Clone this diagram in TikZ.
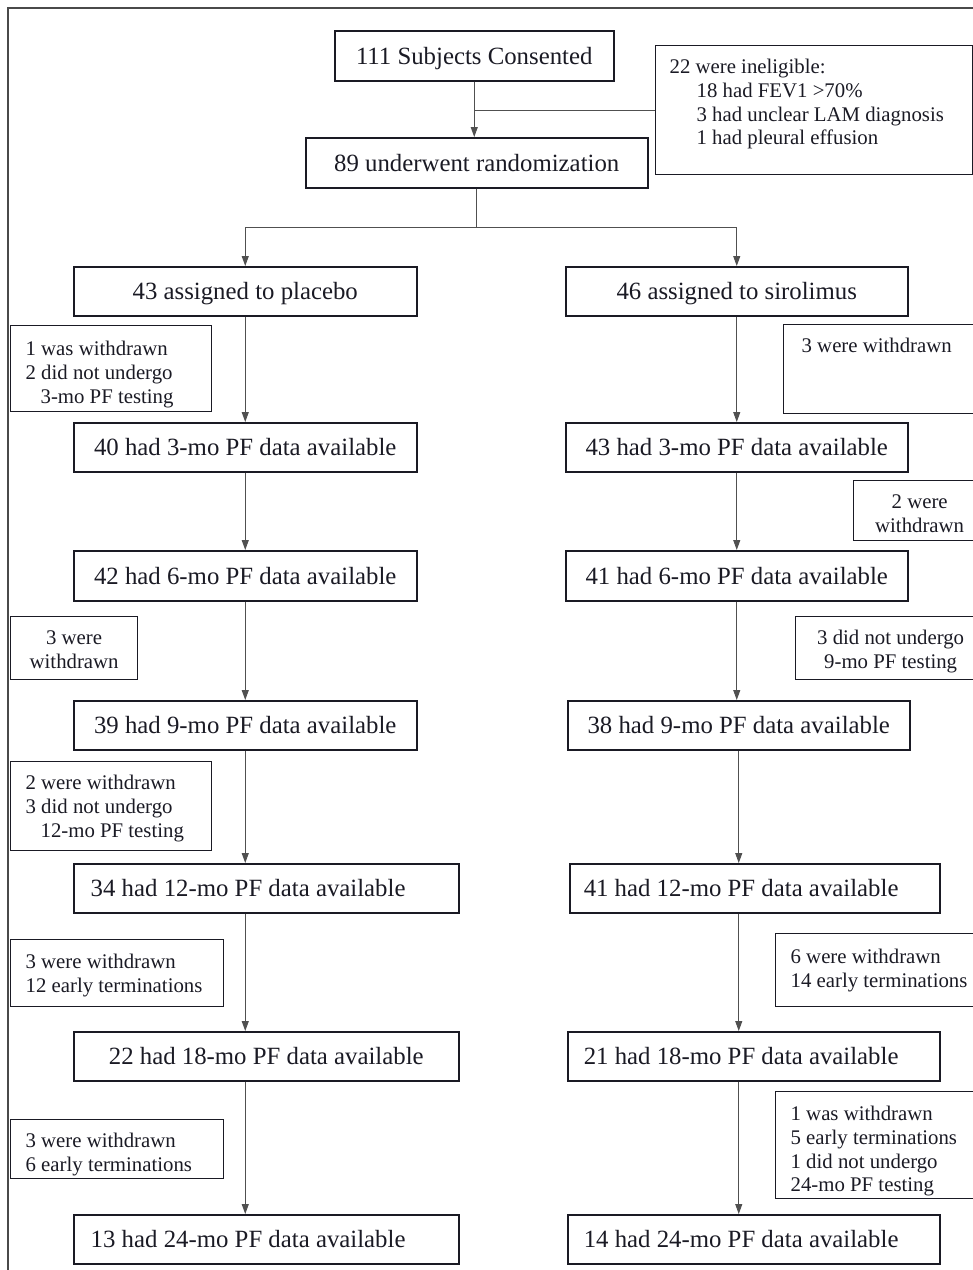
\documentclass[tikz,border=0pt]{standalone}
\usepackage{fontspec}
\setmainfont{Liberation Serif}
\usetikzlibrary{arrows.meta}
\definecolor{ink}{HTML}{1A1A24}
\definecolor{framec}{HTML}{4A4A4A}
\definecolor{connc}{HTML}{505050}
\newcommand{\mainsize}{\fontsize{24.8}{28}\selectfont}
\newcommand{\sidesize}{\fontsize{20.8}{23.7}\selectfont}
% side box content: width, height, top gap, left skip, lines
\newcommand{\sidetxt}[5]{\parbox[c][#2][t]{#1}{\sidesize\leftskip=#4\relax\vspace*{#3}#5}}
\newcommand{\sidectr}[4]{\parbox[c][#2][t]{#1}{\sidesize\centering\vspace*{#3}#4}}
\tikzset{
  mbox/.style={draw=ink, line width=1.5pt, text=ink, inner sep=0pt, anchor=north west,
    font=\mainsize, text height=17pt, text depth=0pt},
  sbox/.style={draw=ink, line width=1.3pt, text=ink, inner sep=0pt, anchor=north west},
  conn/.style={draw=connc, line width=1pt},
  arr/.style={-{Triangle[length=10pt,width=7pt]}}
}
\begin{document}
\begin{tikzpicture}[x=1pt,y=1pt]
\useasboundingbox (0,0) rectangle (973,-1270);
% outer frame
\draw[framec, line width=2pt] (8,-1280) -- (8,-8) -- (990,-8);

% main boxes
\node[mbox, minimum width=279pt, minimum height=50pt] (cons) at (334,-30) {111 Subjects Consented};
\node[mbox, minimum width=342pt, minimum height=50pt] (rand) at (305,-137) {89 underwent randomization};
\node[mbox, minimum width=343pt, minimum height=49pt] (plac) at (73,-266) {43 assigned to placebo};
\node[mbox, minimum width=342pt, minimum height=49pt] (siro) at (565,-266) {46 assigned to sirolimus};
\node[mbox, minimum width=343pt, minimum height=49pt] (p3) at (73,-422) {40 had 3-mo PF data available};
\node[mbox, minimum width=342pt, minimum height=49pt] (s3) at (565,-422) {43 had 3-mo PF data available};
\node[mbox, minimum width=343pt, minimum height=50pt] (p6) at (73,-550) {42 had 6-mo PF data available};
\node[mbox, minimum width=342pt, minimum height=50pt] (s6) at (565,-550) {41 had 6-mo PF data available};
\node[mbox, minimum width=343pt, minimum height=49pt] (p9) at (73,-700) {39 had 9-mo PF data available};
\node[mbox, minimum width=342pt, minimum height=49pt] (s9) at (567,-700) {38 had 9-mo PF data available};
\node[mbox, minimum height=49pt] (p12) at (73,-863) {\makebox[385pt][l]{\hspace*{17pt}34 had 12-mo PF data available}};
\node[mbox, minimum height=49pt] (s12) at (569,-863) {\makebox[370pt][l]{\hspace*{14pt}41 had 12-mo PF data available}};
\node[mbox, minimum width=385pt, minimum height=49pt] (p18) at (73,-1031) {22 had 18-mo PF data available};
\node[mbox, minimum height=49pt] (s18) at (567,-1031) {\makebox[372pt][l]{\hspace*{16pt}21 had 18-mo PF data available}};
\node[mbox, minimum height=49pt] (p24) at (73,-1214) {\makebox[385pt][l]{\hspace*{17pt}13 had 24-mo PF data available}};
\node[mbox, minimum height=49pt] (s24) at (567,-1214) {\makebox[372pt][l]{\hspace*{16pt}14 had 24-mo PF data available}};

% side boxes
\node[sbox] (inel) at (655,-45) {\sidetxt{317pt}{129pt}{11.4pt}{14pt}{\strut 22 were ineligible:\\
  \hspace*{27pt}18 had FEV1 >70\%\\ \hspace*{27pt}3 had unclear LAM diagnosis\\ \hspace*{27pt}1 had pleural effusion}};
\node[sbox] (w3L) at (10,-325) {\sidetxt{201pt}{86pt}{13.4pt}{15pt}{\strut 1 was withdrawn\\ 2 did not undergo\\ \hspace*{15pt}3-mo PF testing}};
\node[sbox] (w3R) at (783,-324) {\sidetxt{202pt}{89pt}{11.4pt}{18pt}{\strut 3 were withdrawn}};
\node[sbox] (w6R) at (853,-480) {\sidectr{132pt}{60pt}{11.4pt}{\strut 2 were\\ withdrawn}};
\node[sbox] (w9L) at (10,-616) {\sidectr{127pt}{63pt}{11.4pt}{\strut 3 were\\ withdrawn}};
\node[sbox] (w9R) at (795,-616) {\sidectr{190pt}{63pt}{11.4pt}{\strut 3 did not undergo\\ 9-mo PF testing}};
\node[sbox] (w12L) at (10,-761) {\sidetxt{201pt}{89pt}{11.4pt}{15pt}{\strut 2 were withdrawn\\ 3 did not undergo\\ \hspace*{15pt}12-mo PF testing}};
\node[sbox] (w18L) at (10,-939) {\sidetxt{213pt}{67pt}{12.4pt}{15pt}{\strut 3 were withdrawn\\ 12 early terminations}};
\node[sbox] (w18R) at (775,-933) {\sidetxt{210pt}{73pt}{13.4pt}{15pt}{\strut 6 were withdrawn\\ 14 early terminations}};
\node[sbox] (w24L) at (10,-1119) {\sidetxt{213pt}{59pt}{11.4pt}{15pt}{\strut 3 were withdrawn\\ 6 early terminations}};
\node[sbox] (w24R) at (775,-1091) {\sidetxt{210pt}{107pt}{12.4pt}{15pt}{\strut 1 was withdrawn\\ 5 early terminations\\ 1 did not undergo\\ 24-mo PF testing}};

% connectors
\coordinate (br) at (477,-227);
\draw[conn,arr] (cons.south) -- (cons.south |- rand.north);
\draw[conn] (inel.west) -- (inel.west -| cons.south);
\draw[conn] (rand.south) -- (rand.south |- br);
\draw[conn,arr] (rand.south |- br) -| (plac.north);
\draw[conn,arr] (rand.south |- br) -| (siro.north);

\draw[conn,arr] (plac.south) -- (p3.north);
\draw[conn,arr] (p3.south) -- (p6.north);
\draw[conn,arr] (p6.south) -- (p9.north);
\draw[conn,arr] (p9.south) -- (p9.south |- p12.north);
\draw[conn,arr] (p12.south -| p9.south) -- (p9.south |- p18.north);
\draw[conn,arr] (p18.south -| p9.south) -- (p9.south |- p24.north);

\draw[conn,arr] (siro.south) -- (s3.north);
\draw[conn,arr] (s3.south) -- (s6.north);
\draw[conn,arr] (s6.south) -- (s6.south |- s9.north);
\draw[conn,arr] (s9.south) -- (s9.south |- s12.north);
\draw[conn,arr] (s12.south -| s9.south) -- (s9.south |- s18.north);
\draw[conn,arr] (s18.south -| s9.south) -- (s9.south |- s24.north);
\end{tikzpicture}
\end{document}
